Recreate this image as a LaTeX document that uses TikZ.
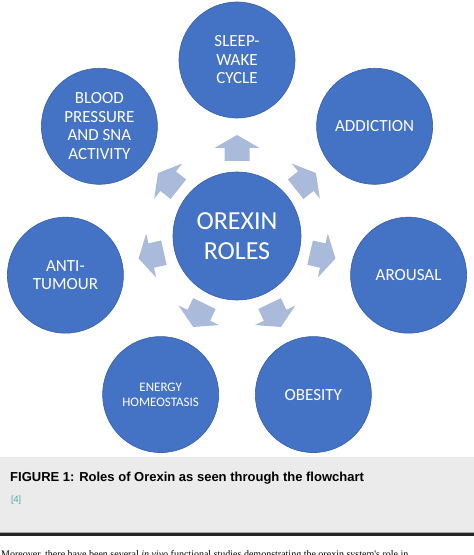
\documentclass[tikz,border=0pt]{standalone}
\usepackage{fontspec}
\setmainfont{Carlito}
\newfontfamily\capfont{Liberation Sans}
\newfontfamily\bodyfont{Liberation Serif}
\usetikzlibrary{calc}

\definecolor{roleblue}{RGB}{68,114,196}
\definecolor{roleline}{RGB}{55,95,170}
\definecolor{flowblue}{RGB}{170,186,218}
\definecolor{capgray}{RGB}{235,235,235}
\definecolor{refteal}{RGB}{70,170,160}

\tikzset{
  role/.style={circle, fill=roleblue, draw=roleline, line width=0.6pt,
    minimum size=116pt, inner sep=0pt, text=white, align=center,
    font=\fontsize{17}{18.5}\selectfont},
  flow/.style={fill=flowblue}
}

\begin{document}
\begin{tikzpicture}[x=1pt,y=1pt]
    \useasboundingbox (0,0) rectangle (474,555);

    % mittelpunkt
    \node[role, minimum size=128pt, font=\fontsize{26}{30}\selectfont] (core) at (237,319) {OREXIN\\ROLES};

    % die sieben rollen, im kreis (360/7 grad)
    \node[role] (sleep)     at ($(core)+(90:176)$)     {SLEEP-\\WAKE\\CYCLE};
    \node[role] (pressure)  at ($(core)+(141.43:176)$) {BLOOD\\PRESSURE\\AND SNA\\ACTIVITY};
    \node[role] (tumour)    at ($(core)+(192.86:176)$) {ANTI-\\TUMOUR};
    \node[role, font=\fontsize{13}{15}\selectfont] (energy) at ($(core)+(244.29:176)$) {ENERGY\\HOMEOSTASIS};
    \node[role] (obesity)   at ($(core)+(295.71:176)$) {OBESITY};
    \node[role] (arousal)   at ($(core)+(347.14:176)$) {AROUSAL};
    \node[role] (addiction) at ($(core)+(38.57:176)$)  {ADDICTION};

    % blockpfeile zwischen mitte und rollen
    \foreach \r/\a in {sleep/90, pressure/141.43, tumour/192.86, energy/244.29,
                       obesity/295.71, arousal/347.14, addiction/38.57}{
      \begin{scope}[shift={($(core)!0.5!(\r)$)}, rotate=\a]
        \fill[flow] (-13,-12.5) -- (0,-12.5) -- (0,-22.5) -- (13,0)
                    -- (0,22.5) -- (0,12.5) -- (-13,12.5) -- cycle;
      \end{scope}
    }

    % bildunterschrift
    \fill[capgray] (0,23) rectangle (474,98);
    \node[anchor=base west, inner sep=0pt, font=\capfont\bfseries\fontsize{13}{15}\selectfont] (caption)
      at (10,73) {FIGURE 1: Roles of Orexin as seen through the flowchart};
    \node[anchor=base west, inner sep=0pt, text=refteal, font=\capfont\fontsize{9}{10}\selectfont] (ref)
      at (11,52.5) {[4]};

    % trennlinie
    \draw[gray!70, line width=0.8pt] (0,23) -- (474,23);
    \draw[black!85, line width=2.7pt] (0,20.3) -- (474,20.3);

    % angeschnittener fliesstext
    \node[anchor=base west, inner sep=0pt, font=\bodyfont\fontsize{10}{12}\selectfont] (body)
      at (1,-2.6) {Moreover, there have been several \textit{in vivo} functional studies demonstrating the orexin system's role in};
  \end{tikzpicture}
\end{document}
